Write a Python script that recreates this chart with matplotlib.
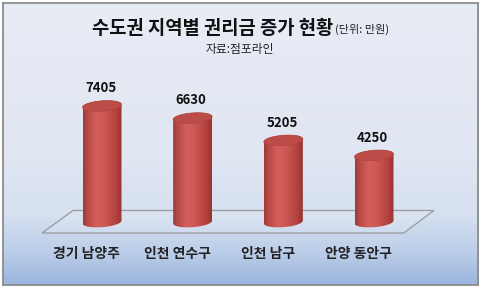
import numpy as np
import matplotlib
matplotlib.use("Agg")
import matplotlib.pyplot as plt
from matplotlib.path import Path
from matplotlib.patches import PathPatch, Polygon
from matplotlib.colors import LinearSegmentedColormap

categories = ['경기 남양주', '인천 연수구', '인천 남구', '안양 동안구']
values = [7405, 6630, 5205, 4250]
title_main = '수도권 지역별 권리금 증가 현황'
title_unit = '(단위: 만원)'
source = '자료:점포라인'

plt.rcParams['font.family'] = ['Noto Sans CJK KR', 'DejaVu Sans']

W, H = 480, 288
fig = plt.figure(figsize=(4.8, 2.88), dpi=100)
fig.patch.set_facecolor('white')

# background panel with vertical gradient
bg = fig.add_axes([2.5 / W, 3 / H, 475.5 / W, 282 / H])
bg_cmap = LinearSegmentedColormap.from_list(
    'bg', [(0, '#e8ecf5'), (0.55, '#e0e6f2'), (0.75, '#d6e0f0'),
           (0.88, '#bccee9'), (1, '#9cb5de')])
grad = np.linspace(0, 1, 256).reshape(-1, 1)
bg.imshow(grad, aspect='auto', cmap=bg_cmap, extent=(0, 1, 0, 1), origin='upper')
bg.set_xticks([])
bg.set_yticks([])
for sp in bg.spines.values():
    sp.set_color('#8c8c8c')
    sp.set_linewidth(1.3)

# main axes (data space)
ax = fig.add_axes([34 / W, 0, 408 / W, 1])
ax.set_facecolor('none')
ax.axis('off')
xlim = (-0.75, 3.75)
ylim = (-4212, 14167)

# floor
floor = Polygon([(-0.32, 734), (3.66, 734), (3.33, -702), (-0.66, -702)],
                closed=True, facecolor=(1, 1, 1, 0.12), edgecolor='#9a9a9a', lw=0.9)
ax.add_patch(floor)

a = 0.215      # half width of cylinder
b = 330        # half height of ellipse
tilt = 90      # slant of ellipse

body_cmap = LinearSegmentedColormap.from_list(
    'body', [(0, '#9e3a37'), (0.12, '#b94a46'), (0.35, '#d35f5b'),
             (0.55, '#cd5854'), (0.85, '#b3433f'), (1, '#983330')])
hgrad = np.linspace(0, 1, 128).reshape(1, -1)

t_low = np.linspace(np.pi, 2 * np.pi, 60)
t_up = np.linspace(0, np.pi, 60)
t_all = np.linspace(0, 2 * np.pi, 120)

for i, v in enumerate(values):
    x = i
    bx = x + a * np.cos(t_low)
    by = b * np.sin(t_low) + tilt * np.cos(t_low)
    tx = x + a * np.cos(t_up)
    ty = v + b * np.sin(t_up) + tilt * np.cos(t_up)
    verts = np.vstack([np.column_stack([bx, by]), np.column_stack([tx, ty]),
                       [[bx[0], by[0]]]])
    codes = [Path.MOVETO] + [Path.LINETO] * (len(verts) - 2) + [Path.CLOSEPOLY]
    body_path = Path(verts, codes)
    clip = PathPatch(body_path, transform=ax.transData, facecolor='none', edgecolor='none')
    ax.add_patch(clip)
    im = ax.imshow(hgrad, cmap=body_cmap, aspect='auto',
                   extent=(x - a, x + a, -b - tilt - 50, v + b + tilt + 50), zorder=3)
    im.set_clip_path(clip)
    ex = x + a * np.cos(t_all)
    ey = v + b * np.sin(t_all) + tilt * np.cos(t_all)
    top = Polygon(np.column_stack([ex, ey]), closed=True, facecolor='#bb4c48',
                  edgecolor='#b04541', lw=0.5, zorder=4)
    ax.add_patch(top)
    ax.annotate(f'{v}', xy=(x, v + b), xytext=(-1, 4), textcoords='offset points',
                ha='center', va='bottom', fontsize=9.5, fontweight='bold',
                color='#111111', zorder=5)
    ax.text(x - 0.17, -2042, categories[i], ha='center', va='center',
            fontsize=10, fontweight='bold', color='#222222', zorder=5)

ax.set_xlim(*xlim)
ax.set_ylim(*ylim)

# title
fig.canvas.draw()
r = fig.canvas.get_renderer()
t1 = fig.text(0.5, 1 - 28 / H, title_main, ha='left', va='center',
              fontsize=13.5, fontweight='bold', color='#111111')
t2 = fig.text(0.5, 1 - 29 / H, title_unit, ha='left', va='center',
              fontsize=8, color='#222222')
w1 = t1.get_window_extent(r).width
w2 = t2.get_window_extent(r).width
start = (W / 2 - (w1 + w2) / 2)
t1.set_x(start / W)
t2.set_x((start + w1 + 1) / W)
fig.text(0.5, 1 - 50 / H, source, ha='center', va='center', fontsize=8.5, color='#222222')

fig.savefig('out.png', dpi=100, facecolor='white')
